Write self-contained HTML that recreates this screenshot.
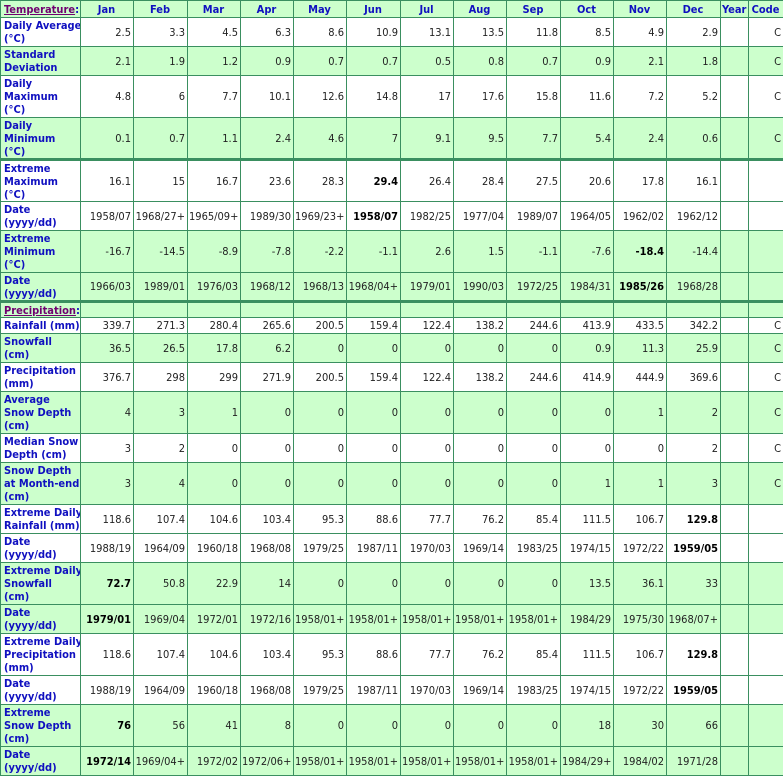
<!DOCTYPE html>
<html><head><meta charset="utf-8"><style>
body{margin:0;background:#fff;}
table{border-collapse:collapse;table-layout:fixed;width:783px;font-family:"DejaVu Sans Condensed","DejaVu Sans","Liberation Sans",sans-serif;font-size:11px;}
td,th{border:1px solid #3a8f60;padding:0 2px 0 1px;overflow:hidden;white-space:nowrap;}
th{color:#1010c0;font-weight:bold;text-align:center;}
td{text-align:right;color:#222;}
td.l{text-align:left;color:#1010c0;font-weight:bold;line-height:13px;padding-left:3px;}
tr.g td,tr.g th{background:#ccffcc;}
tr.t td{border-top:3px solid #3a8f60;}
b{color:#000;}
.u{color:#700070;text-decoration:underline;}
</style></head><body>
<table>
<colgroup><col style="width:80px"><col style="width:53px"><col style="width:54px"><col style="width:53px"><col style="width:53px"><col style="width:53px"><col style="width:54px"><col style="width:53px"><col style="width:53px"><col style="width:54px"><col style="width:53px"><col style="width:53px"><col style="width:54px"><col style="width:28px"><col style="width:35px"></colgroup>
<tr class="g" style="height:17px"><th style="text-align:left;padding-left:3px"><span class="u">Temperature</span>:</th><th>Jan</th><th>Feb</th><th>Mar</th><th>Apr</th><th>May</th><th>Jun</th><th>Jul</th><th>Aug</th><th>Sep</th><th>Oct</th><th>Nov</th><th>Dec</th><th>Year</th><th>Code</th></tr>
<tr style="height:29px"><td class="l">Daily Average<br>(°C)</td><td>2.5</td><td>3.3</td><td>4.5</td><td>6.3</td><td>8.6</td><td>10.9</td><td>13.1</td><td>13.5</td><td>11.8</td><td>8.5</td><td>4.9</td><td>2.9</td><td></td><td>C</td></tr>
<tr class="g" style="height:29px"><td class="l">Standard<br>Deviation</td><td>2.1</td><td>1.9</td><td>1.2</td><td>0.9</td><td>0.7</td><td>0.7</td><td>0.5</td><td>0.8</td><td>0.7</td><td>0.9</td><td>2.1</td><td>1.8</td><td></td><td>C</td></tr>
<tr style="height:42px"><td class="l">Daily<br>Maximum<br>(°C)</td><td>4.8</td><td>6</td><td>7.7</td><td>10.1</td><td>12.6</td><td>14.8</td><td>17</td><td>17.6</td><td>15.8</td><td>11.6</td><td>7.2</td><td>5.2</td><td></td><td>C</td></tr>
<tr class="g" style="height:42px"><td class="l">Daily<br>Minimum<br>(°C)</td><td>0.1</td><td>0.7</td><td>1.1</td><td>2.4</td><td>4.6</td><td>7</td><td>9.1</td><td>9.5</td><td>7.7</td><td>5.4</td><td>2.4</td><td>0.6</td><td></td><td>C</td></tr>
<tr class="t" style="height:42px"><td class="l">Extreme<br>Maximum<br>(°C)</td><td>16.1</td><td>15</td><td>16.7</td><td>23.6</td><td>28.3</td><td><b>29.4</b></td><td>26.4</td><td>28.4</td><td>27.5</td><td>20.6</td><td>17.8</td><td>16.1</td><td></td><td></td></tr>
<tr style="height:29px"><td class="l">Date<br>(yyyy/dd)</td><td>1958/07</td><td>1968/27+</td><td>1965/09+</td><td>1989/30</td><td>1969/23+</td><td><b>1958/07</b></td><td>1982/25</td><td>1977/04</td><td>1989/07</td><td>1964/05</td><td>1962/02</td><td>1962/12</td><td></td><td></td></tr>
<tr class="g" style="height:42px"><td class="l">Extreme<br>Minimum<br>(°C)</td><td>-16.7</td><td>-14.5</td><td>-8.9</td><td>-7.8</td><td>-2.2</td><td>-1.1</td><td>2.6</td><td>1.5</td><td>-1.1</td><td>-7.6</td><td><b>-18.4</b></td><td>-14.4</td><td></td><td></td></tr>
<tr class="g" style="height:29px"><td class="l">Date<br>(yyyy/dd)</td><td>1966/03</td><td>1989/01</td><td>1976/03</td><td>1968/12</td><td>1968/13</td><td>1968/04+</td><td>1979/01</td><td>1990/03</td><td>1972/25</td><td>1984/31</td><td><b>1985/26</b></td><td>1968/28</td><td></td><td></td></tr>
<tr class="g t" style="height:16px"><td class="l"><span class="u">Precipitation</span>:</td><td></td><td></td><td></td><td></td><td></td><td></td><td></td><td></td><td></td><td></td><td></td><td></td><td></td><td></td></tr>
<tr style="height:16px"><td class="l">Rainfall (mm)</td><td>339.7</td><td>271.3</td><td>280.4</td><td>265.6</td><td>200.5</td><td>159.4</td><td>122.4</td><td>138.2</td><td>244.6</td><td>413.9</td><td>433.5</td><td>342.2</td><td></td><td>C</td></tr>
<tr class="g" style="height:29px"><td class="l">Snowfall<br>(cm)</td><td>36.5</td><td>26.5</td><td>17.8</td><td>6.2</td><td>0</td><td>0</td><td>0</td><td>0</td><td>0</td><td>0.9</td><td>11.3</td><td>25.9</td><td></td><td>C</td></tr>
<tr style="height:29px"><td class="l">Precipitation<br>(mm)</td><td>376.7</td><td>298</td><td>299</td><td>271.9</td><td>200.5</td><td>159.4</td><td>122.4</td><td>138.2</td><td>244.6</td><td>414.9</td><td>444.9</td><td>369.6</td><td></td><td>C</td></tr>
<tr class="g" style="height:42px"><td class="l">Average<br>Snow Depth<br>(cm)</td><td>4</td><td>3</td><td>1</td><td>0</td><td>0</td><td>0</td><td>0</td><td>0</td><td>0</td><td>0</td><td>1</td><td>2</td><td></td><td>C</td></tr>
<tr style="height:29px"><td class="l">Median Snow<br>Depth (cm)</td><td>3</td><td>2</td><td>0</td><td>0</td><td>0</td><td>0</td><td>0</td><td>0</td><td>0</td><td>0</td><td>0</td><td>2</td><td></td><td>C</td></tr>
<tr class="g" style="height:42px"><td class="l">Snow Depth<br>at Month-end<br>(cm)</td><td>3</td><td>4</td><td>0</td><td>0</td><td>0</td><td>0</td><td>0</td><td>0</td><td>0</td><td>1</td><td>1</td><td>3</td><td></td><td>C</td></tr>
<tr style="height:29px"><td class="l">Extreme Daily<br>Rainfall (mm)</td><td>118.6</td><td>107.4</td><td>104.6</td><td>103.4</td><td>95.3</td><td>88.6</td><td>77.7</td><td>76.2</td><td>85.4</td><td>111.5</td><td>106.7</td><td><b>129.8</b></td><td></td><td></td></tr>
<tr style="height:29px"><td class="l">Date<br>(yyyy/dd)</td><td>1988/19</td><td>1964/09</td><td>1960/18</td><td>1968/08</td><td>1979/25</td><td>1987/11</td><td>1970/03</td><td>1969/14</td><td>1983/25</td><td>1974/15</td><td>1972/22</td><td><b>1959/05</b></td><td></td><td></td></tr>
<tr class="g" style="height:42px"><td class="l">Extreme Daily<br>Snowfall<br>(cm)</td><td><b>72.7</b></td><td>50.8</td><td>22.9</td><td>14</td><td>0</td><td>0</td><td>0</td><td>0</td><td>0</td><td>13.5</td><td>36.1</td><td>33</td><td></td><td></td></tr>
<tr class="g" style="height:29px"><td class="l">Date<br>(yyyy/dd)</td><td><b>1979/01</b></td><td>1969/04</td><td>1972/01</td><td>1972/16</td><td>1958/01+</td><td>1958/01+</td><td>1958/01+</td><td>1958/01+</td><td>1958/01+</td><td>1984/29</td><td>1975/30</td><td>1968/07+</td><td></td><td></td></tr>
<tr style="height:42px"><td class="l">Extreme Daily<br>Precipitation<br>(mm)</td><td>118.6</td><td>107.4</td><td>104.6</td><td>103.4</td><td>95.3</td><td>88.6</td><td>77.7</td><td>76.2</td><td>85.4</td><td>111.5</td><td>106.7</td><td><b>129.8</b></td><td></td><td></td></tr>
<tr style="height:29px"><td class="l">Date<br>(yyyy/dd)</td><td>1988/19</td><td>1964/09</td><td>1960/18</td><td>1968/08</td><td>1979/25</td><td>1987/11</td><td>1970/03</td><td>1969/14</td><td>1983/25</td><td>1974/15</td><td>1972/22</td><td><b>1959/05</b></td><td></td><td></td></tr>
<tr class="g" style="height:42px"><td class="l">Extreme<br>Snow Depth<br>(cm)</td><td><b>76</b></td><td>56</td><td>41</td><td>8</td><td>0</td><td>0</td><td>0</td><td>0</td><td>0</td><td>18</td><td>30</td><td>66</td><td></td><td></td></tr>
<tr class="g" style="height:29px"><td class="l">Date<br>(yyyy/dd)</td><td><b>1972/14</b></td><td>1969/04+</td><td>1972/02</td><td>1972/06+</td><td>1958/01+</td><td>1958/01+</td><td>1958/01+</td><td>1958/01+</td><td>1958/01+</td><td>1984/29+</td><td>1984/02</td><td>1971/28</td><td></td><td></td></tr>
</table>
</body></html>
